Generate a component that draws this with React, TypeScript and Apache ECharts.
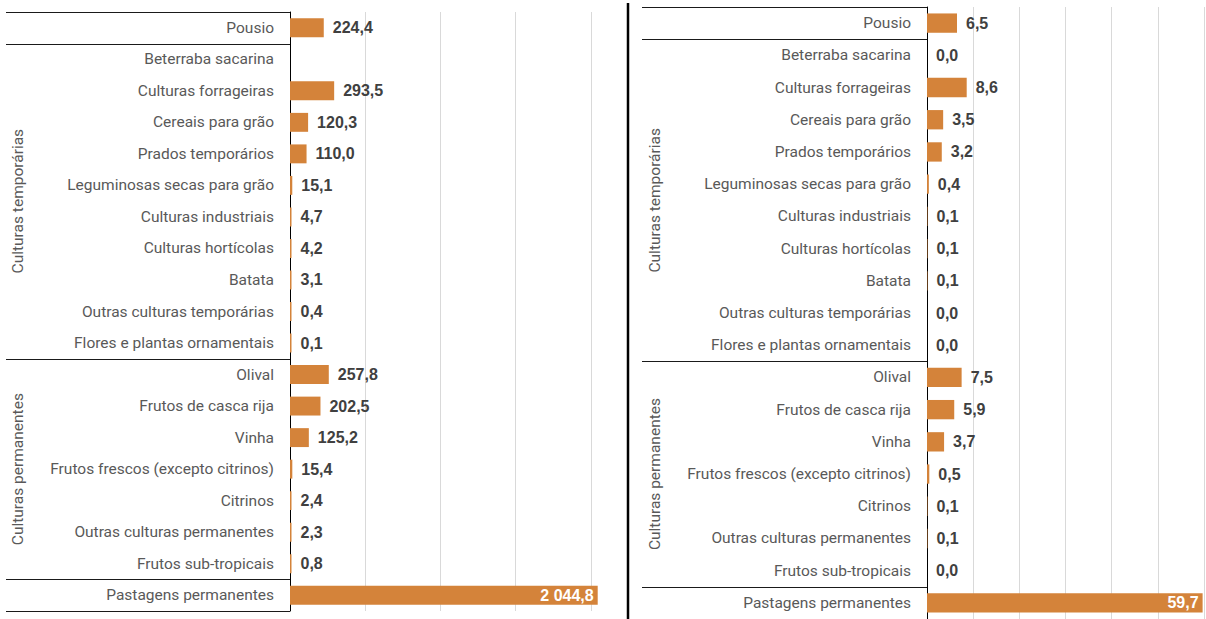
import React, { useEffect, useRef } from "react";
import * as echarts from "echarts";

const categories = [
  "Pousio",
  "Beterraba sacarina",
  "Culturas forrageiras",
  "Cereais para grão",
  "Prados temporários",
  "Leguminosas secas para grão",
  "Culturas industriais",
  "Culturas hortícolas",
  "Batata",
  "Outras culturas temporárias",
  "Flores e plantas ornamentais",
  "Olival",
  "Frutos de casca rija",
  "Vinha",
  "Frutos frescos (excepto citrinos)",
  "Citrinos",
  "Outras culturas permanentes",
  "Frutos sub-tropicais",
  "Pastagens permanentes",
];
const leftValues: (number | null)[] = [
  224.4, null, 293.5, 120.3, 110.0, 15.1, 4.7, 4.2, 3.1, 0.4, 0.1, 257.8, 202.5, 125.2, 15.4, 2.4, 2.3, 0.8, 2044.8,
];
const rightValues: number[] = [
  6.5, 0.0, 8.6, 3.5, 3.2, 0.4, 0.1, 0.1, 0.1, 0.0, 0.0, 7.5, 5.9, 3.7, 0.5, 0.1, 0.1, 0.0, 59.7,
];
const groups = [
  { name: "Culturas temporárias", from: 1, to: 10 },
  { name: "Culturas permanentes", from: 11, to: 17 },
];
// horizontal separator lines drawn at the top edge of these category indices (19 = bottom)
const separatorEdges = [0, 1, 11, 18, 19];
const insideLabelIndex = 18;

const BAR = "#D4833A";
const LABEL_FONT = "Roboto";
const VALUE_FONT = "Liberation Sans";

function fmt(v: number): string {
  const [i, d] = v.toFixed(1).split(".");
  return i.replace(/\B(?=(\d{3})+(?!\d))/g, " ") + "," + d;
}

function makeData(values: (number | null)[]) {
  return values.map((v, idx) =>
    idx === insideLabelIndex && v != null
      ? {
          value: v,
          label: {
            position: "insideRight",
            color: "#ffffff",
            distance: 4,
          },
        }
      : v
  );
}

export default function App() {
  const ref = useRef<HTMLDivElement>(null);
  useEffect(() => {
    if (!ref.current) return;
    const chart = echarts.init(ref.current, undefined, { renderer: "svg" });
    const panels = [
      { grid: { left: 290, top: 12, width: 313, height: 599 }, max: 2080, interval: 500, showMax: false, values: leftValues, lineX0: 6, groupX: 18 },
      { grid: { left: 927, top: 7, width: 277, height: 613.5 }, max: 60, interval: 10, showMax: true, values: rightValues, lineX0: 642, groupX: 655 },
    ];
    chart.setOption({
      animation: false,
      backgroundColor: "#ffffff",
      grid: panels.map((p) => ({ ...p.grid, containLabel: false })),
      xAxis: panels.map((p, k) => ({
        type: "value",
        gridIndex: k,
        min: 0,
        max: p.max,
        interval: p.interval,
        axisLabel: { show: false },
        axisLine: { show: false },
        axisTick: { show: false },
        splitLine: {
          show: true,
          showMinLine: false,
          showMaxLine: p.showMax,
          lineStyle: { color: "#D9D9D9", width: 1 },
        },
      })),
      yAxis: panels.map((p, k) => ({
        type: "category",
        gridIndex: k,
        inverse: true,
        data: categories,
        axisLine: { show: true, lineStyle: { color: "#000000", width: 1 } },
        axisTick: { show: false },
        axisLabel: {
          margin: 16,
          color: "#595959",
          fontFamily: LABEL_FONT,
          fontSize: 15.5,
        },
      })),
      series: panels.map((p, k) => ({
        type: "bar",
        xAxisIndex: k,
        yAxisIndex: k,
        data: makeData(p.values),
        barWidth: "60%",
        barMinHeight: k === 0 ? 1.5 : 0,
        itemStyle: { color: BAR },
        label: {
          show: true,
          position: "right",
          distance: 9,
          color: "#404040",
          fontFamily: VALUE_FONT,
          fontWeight: "bold",
          fontSize: 16,
          formatter: (prm: any) => fmt(Number(prm.value)),
        },
      })),
    });

    const graphics: any[] = [];
    panels.forEach((p, k) => {
      const c0 = chart.convertToPixel({ yAxisIndex: k } as any, categories[0]) as number;
      const c1 = chart.convertToPixel({ yAxisIndex: k } as any, categories[1]) as number;
      const band = c1 - c0;
      const axisX = chart.convertToPixel({ xAxisIndex: k } as any, 0) as number;
      separatorEdges.forEach((e) => {
        const y = Math.round(c0 - band / 2 + e * band) + 0.5;
        graphics.push({
          type: "line",
          shape: { x1: p.lineX0, y1: y, x2: axisX, y2: y },
          style: { stroke: "#1a1a1a", lineWidth: 1 },
          silent: true,
        });
      });
      groups.forEach((g) => {
        const yc = c0 + ((g.from + g.to) / 2) * band;
        graphics.push({
          type: "text",
          x: p.groupX,
          y: yc,
          rotation: Math.PI / 2,
          style: {
            text: g.name,
            fill: "#595959",
            font: `15.5px ${LABEL_FONT}`,
            align: "center",
            verticalAlign: "middle",
          },
          silent: true,
        });
      });
    });
    graphics.push({
      type: "line",
      shape: { x1: 628, y1: 3, x2: 628, y2: 619 },
      style: { stroke: "#000000", lineWidth: 2.5 },
      silent: true,
    });
    chart.setOption({ graphic: graphics });

    return () => chart.dispose();
  }, []);
  return (
    <div
      ref={ref}
      style={{ position: "absolute", left: 0, top: 0, width: 1206, height: 619 }}
    />
  );
}
